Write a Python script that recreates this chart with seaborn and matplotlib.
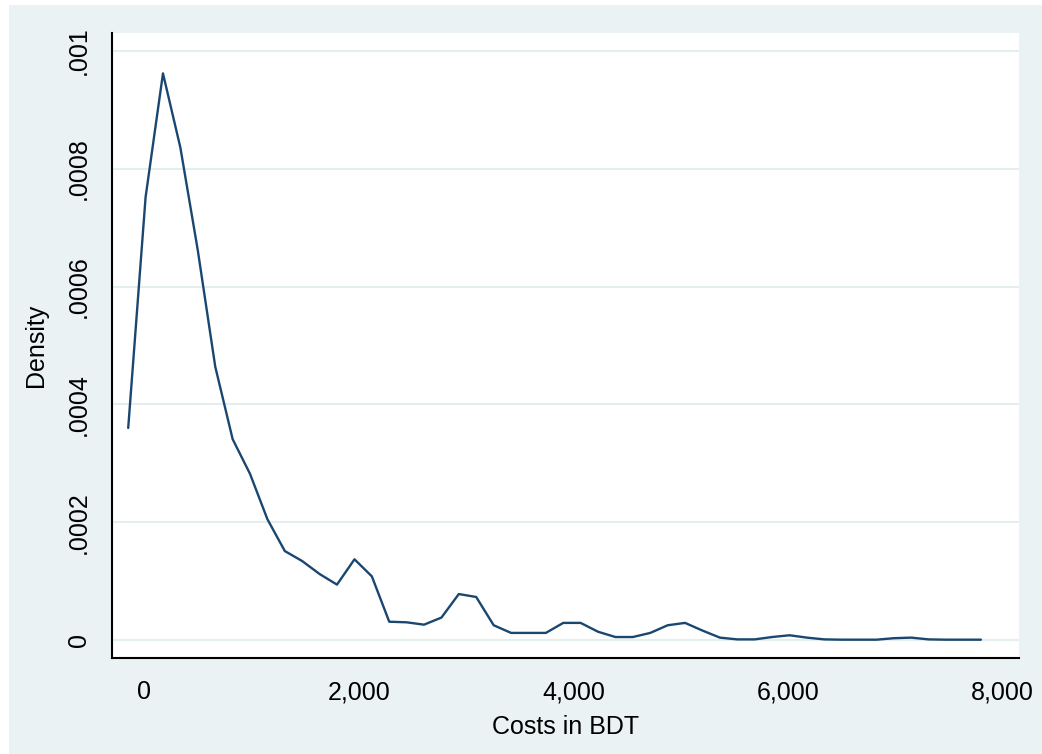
import numpy as np
import pandas as pd
import matplotlib
matplotlib.use("Agg")
import matplotlib.pyplot as plt
from matplotlib.patches import Rectangle
import seaborn as sns

# ---- data ----
cost_bdt = [-147, 15, 177, 339, 501, 664, 826, 988, 1150, 1312,
            1474, 1636, 1798, 1961, 2123, 2285, 2447, 2609, 2771, 2933,
            3095, 3258, 3420, 3582, 3744, 3906, 4068, 4230, 4392, 4554,
            4717, 4879, 5041, 5203, 5365, 5527, 5689, 5851, 6014, 6176,
            6338, 6500, 6662, 6824, 6986, 7148, 7310, 7473, 7635, 7797]
density_e6 = [360, 752, 962, 836, 662, 464, 341, 282, 205, 151,
              134, 112, 94, 137, 108, 31, 30, 26, 38, 78,
              73, 25, 12, 12, 12, 29, 29, 14, 5, 5,
              12, 25, 29, 16, 4, 1, 1, 5, 8, 4,
              1, 0.5, 0.5, 0.5, 3, 4, 1, 0.5, 0.5, 0.5]
density = [d * 1e-6 for d in density_e6]

x_ticks = [0, 2000, 4000, 6000, 8000]
x_tick_labels = ["0", "2,000", "4,000", "6,000", "8,000"]
y_ticks = [0, 0.0002, 0.0004, 0.0006, 0.0008, 0.001]
y_tick_labels = ["0", ".0002", ".0004", ".0006", ".0008", ".001"]

df = pd.DataFrame({"cost": cost_bdt, "density": density})

# ---- style ----
sns.set_style("white")
plt.rcParams["font.family"] = ["Liberation Sans", "DejaVu Sans"]

BG = "#EAF2F3"
GRID = "#E5EEEF"
LINE = "#1a476f"
FS = 18

W, H = 1042, 754
fig = plt.figure(figsize=(W / 100, H / 100), dpi=100, facecolor="white")
bg = Rectangle((9 / W, 0), 1 - 9 / W, 1 - 5 / H,
               transform=fig.transFigure, facecolor=BG,
               edgecolor="none", zorder=-10)
fig.patches.append(bg)

ax = fig.add_axes([112 / W, 1 - 658 / H, (1019 - 112) / W, (658 - 33) / H])
ax.set_zorder(1)
ax.set_facecolor("white")

sns.lineplot(data=df, x="cost", y="density", ax=ax, color=LINE,
             linewidth=1.7, zorder=3)

ax.set_xlim(-298, 8152)
ax.set_ylim(-0.0000306, 0.0010306)

ax.set_xticks(x_ticks)
ax.set_xticklabels(x_tick_labels, fontsize=FS)
ax.set_yticks(y_ticks)
ax.set_yticklabels(y_tick_labels, fontsize=FS, rotation=90, va="center")

ax.yaxis.grid(True, color=GRID, linewidth=1.5, zorder=1)
ax.xaxis.grid(False)
ax.set_axisbelow(True)

for s in ["top", "right"]:
    ax.spines[s].set_visible(False)
for s in ["left", "bottom"]:
    ax.spines[s].set_color("black")
    ax.spines[s].set_linewidth(1.5)

ax.tick_params(axis="both", which="major", direction="out", length=7,
               width=1.2, color="black", labelcolor="black")
ax.tick_params(axis="x", pad=9)
ax.tick_params(axis="y", pad=8)

ax.set_xlabel("Costs in BDT", fontsize=FS, labelpad=8, color="black")
ax.set_ylabel("Density", fontsize=FS, labelpad=14, color="black")

fig.savefig("out.png", dpi=100, facecolor="white")
